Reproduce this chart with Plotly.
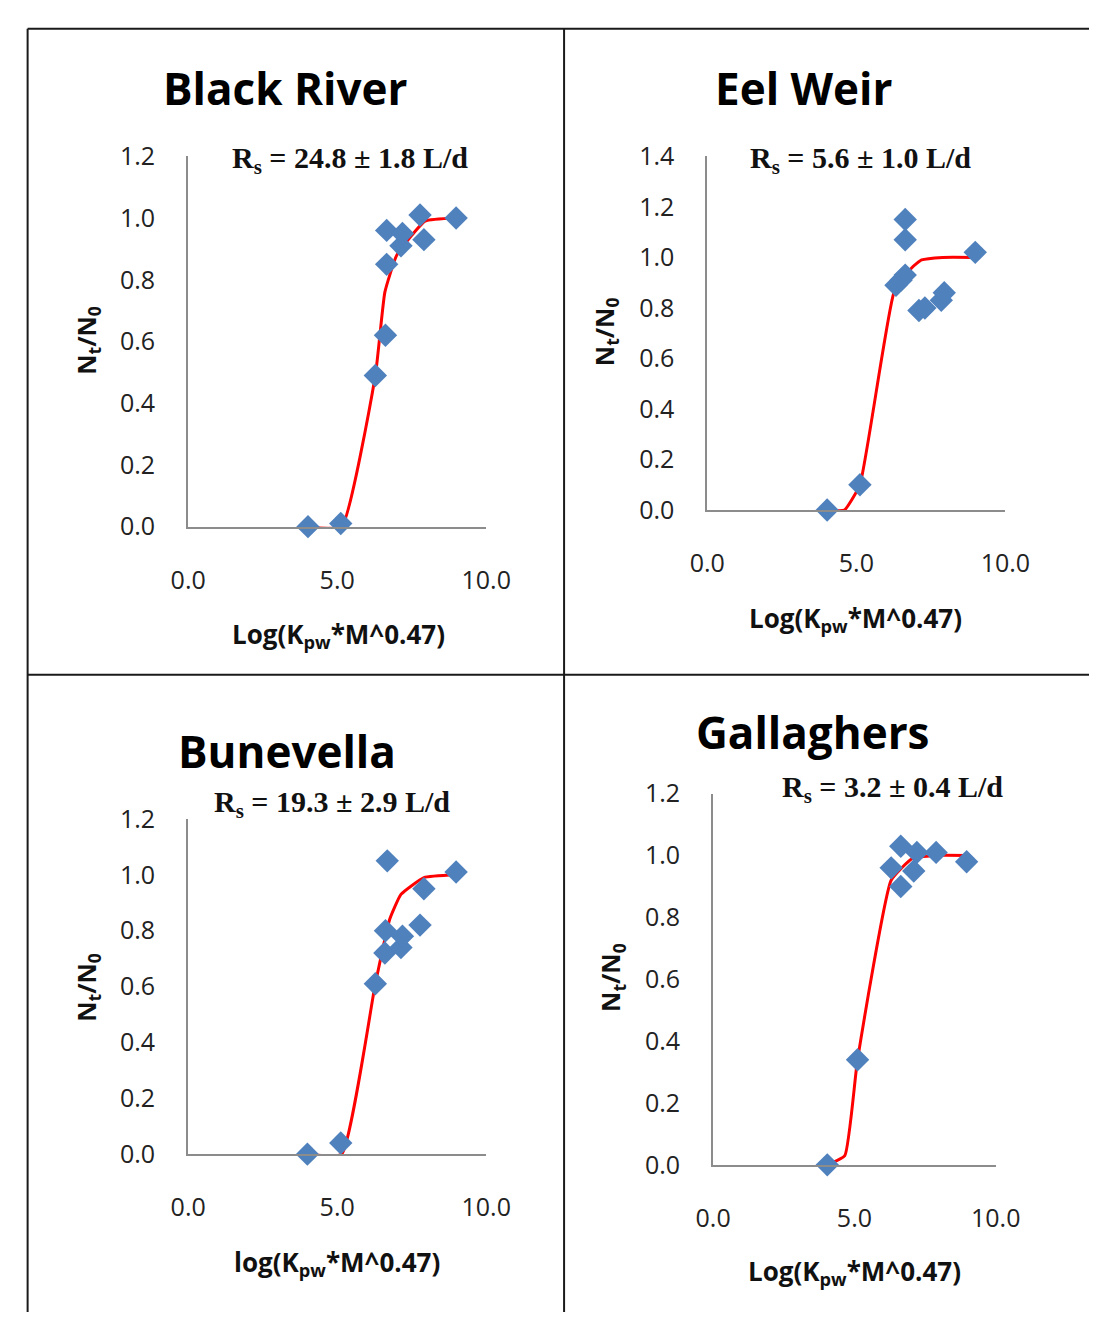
import plotly.graph_objects as go

W, H = 1114, 1328

# ---- Black River ----
br_x = [4.02, 5.12, 6.28, 6.62, 6.66, 6.66, 7.14, 7.19, 7.78, 7.91, 8.99]
br_y = [0.00, 0.01, 0.49, 0.62, 0.85, 0.96, 0.91, 0.95, 1.01, 0.93, 1.00]
br_fit_x = [4.02, 5.15, 6.28, 6.60, 7.00, 7.95, 8.99]
br_fit_y = [0.00, 0.00, 0.49, 0.76, 0.88, 0.99, 1.00]

# ---- Eel Weir ----
ew_x = [4.02, 5.12, 6.33, 6.50, 6.64, 6.64, 6.64, 7.10, 7.30, 7.85, 7.95, 8.99]
ew_y = [0.00, 0.10, 0.89, 0.91, 0.93, 1.07, 1.15, 0.79, 0.80, 0.83, 0.86, 1.02]
ew_fit_x = [4.02, 4.60, 5.12, 6.26, 6.87, 7.19, 7.90, 8.99]
ew_fit_y = [0.00, 0.00, 0.10, 0.86, 0.96, 0.99, 1.00, 1.00]

# ---- Bunevella ----
bu_x = [4.00, 5.12, 6.28, 6.60, 6.62, 6.68, 7.14, 7.19, 7.78, 7.91, 8.99]
bu_y = [0.00, 0.04, 0.61, 0.72, 0.80, 1.05, 0.74, 0.78, 0.82, 0.95, 1.01]
bu_fit_x = [4.00, 5.15, 6.28, 6.76, 7.14, 7.91, 8.99]
bu_fit_y = [0.00, 0.00, 0.61, 0.84, 0.93, 0.99, 1.00]

# ---- Gallaghers ----
ga_x = [4.04, 5.11, 6.30, 6.64, 6.64, 7.10, 7.21, 7.89, 8.97]
ga_y = [0.00, 0.34, 0.96, 0.90, 1.03, 0.95, 1.01, 1.01, 0.98]
ga_fit_x = [4.04, 4.66, 5.11, 6.30, 7.04, 7.89, 8.97]
ga_fit_y = [0.00, 0.03, 0.34, 0.92, 0.99, 1.00, 1.00]

titles = ["Black River", "Eel Weir", "Bunevella", "Gallaghers"]
rs_labels = ["R<sub>s</sub> = 24.8 ± 1.8 L/d", "R<sub>s</sub> = 5.6 ± 1.0 L/d",
             "R<sub>s</sub> = 19.3 ± 2.9 L/d", "R<sub>s</sub> = 3.2 ± 0.4 L/d"]
x_titles = ["Log(K<sub>pw</sub>*M^0.47)", "Log(K<sub>pw</sub>*M^0.47)",
            "log(K<sub>pw</sub>*M^0.47)", "Log(K<sub>pw</sub>*M^0.47)"]
y_title = "N<sub>t</sub>/N<sub>0</sub>"
y_max = [1.2, 1.4, 1.2, 1.2]

panels = [
    (br_x, br_y, br_fit_x, br_fit_y),
    (ew_x, ew_y, ew_fit_x, ew_fit_y),
    (bu_x, bu_y, bu_fit_x, bu_fit_y),
    (ga_x, ga_y, ga_fit_x, ga_fit_y),
]

# plot-area boxes in pixels: (left, right, top, bottom)
boxes = [(177, 487, 142, 522), (717, 1027, 142, 505),
         (177, 487, 822, 1166), (723, 1017, 796, 1177)]
# label positions in pixels
title_pos = [(278, 72), (817, 72), (280, 752), (827, 733)]
rs_pos = [(345, 146), (876, 146), (327, 807), (910, 791)]
xt_pos = [(333, 633), (871, 617), (332, 1278), (870, 1287)]
yt_pos = [(72, 331), (611, 322), (72, 995), (618, 985)]


def px(x):
    return x / W


def py(y):
    return 1 - y / H


fig = go.Figure()
TICK_FONT = dict(family="Open Sans", size=25, color="#222222")
AXIS_LINE = "#8c8c8c"

for i, (dx, dy, fx, fy) in enumerate(panels):
    n = "" if i == 0 else str(i + 1)
    xa, ya = "x" + n, "y" + n
    fig.add_trace(go.Scatter(x=fx, y=fy, mode="lines", xaxis=xa, yaxis=ya,
                             line=dict(color="#ff0000", width=3, shape="spline", smoothing=0.4),
                             showlegend=False, cliponaxis=False, hoverinfo="skip"))
    fig.add_trace(go.Scatter(x=dx, y=dy, mode="markers", xaxis=xa, yaxis=ya,
                             marker=dict(symbol="diamond", size=18, color="#4f81bd",
                                         line=dict(width=0)),
                             showlegend=False, cliponaxis=False))
    l, r, t, b = boxes[i]
    fig.update_layout(**{
        "xaxis" + n: dict(domain=[px(l), px(r)], range=[0, 10], dtick=5, tick0=0,
                          tickformat=".1f", showgrid=False, zeroline=False,
                          showline=True, linecolor=AXIS_LINE, linewidth=2,
                          ticks="", tickfont=TICK_FONT, ticklabelstandoff=30,
                          anchor=ya, fixedrange=True),
        "yaxis" + n: dict(domain=[py(b), py(t)], range=[0, y_max[i]], dtick=0.2, tick0=0,
                          tickformat=".1f", showgrid=False, zeroline=False,
                          showline=True, linecolor=AXIS_LINE, linewidth=2,
                          ticks="", tickfont=TICK_FONT, ticklabelstandoff=26,
                          anchor=xa, fixedrange=True),
    })

annotations = []
for i in range(4):
    tx, ty = title_pos[i]
    annotations.append(dict(text=titles[i], x=px(tx), y=py(ty), xref="paper", yref="paper",
                            showarrow=False, xanchor="center", yanchor="middle",
                            font=dict(family="Open Sans", size=44, color="#000000",
                                      weight="bold")))
    rx, ry = rs_pos[i]
    annotations.append(dict(text=rs_labels[i], x=px(rx), y=py(ry),
                            xref="paper", yref="paper", showarrow=False,
                            xanchor="center", yanchor="middle",
                            font=dict(family="Liberation Serif", size=30, color="#111111",
                                      weight="bold")))
    ax_, ay_ = xt_pos[i]
    annotations.append(dict(text=x_titles[i], x=px(ax_), y=py(ay_),
                            xref="paper", yref="paper", showarrow=False,
                            xanchor="center", yanchor="middle",
                            font=dict(family="Open Sans", size=26, color="#111111",
                                      weight="bold")))
    yx, yy = yt_pos[i]
    annotations.append(dict(text=y_title, x=px(yx), y=py(yy),
                            xref="paper", yref="paper", showarrow=False, textangle=-90,
                            xanchor="center", yanchor="middle",
                            font=dict(family="Open Sans", size=25, color="#111111",
                                      weight="bold")))

# table-style frame around the four panels
GRID = dict(color="#1a1a1a", width=2)
shapes = [
    dict(type="line", xref="paper", yref="paper", x0=px(10), x1=1, y0=py(11), y1=py(11), line=GRID),
    dict(type="line", xref="paper", yref="paper", x0=px(10), x1=1, y0=py(674), y1=py(674), line=GRID),
    dict(type="line", xref="paper", yref="paper", x0=px(10), x1=px(10), y0=py(11), y1=0, line=GRID),
    dict(type="line", xref="paper", yref="paper", x0=px(568), x1=px(568), y0=py(11), y1=0, line=GRID),
]

fig.update_layout(width=W, height=H, margin=dict(l=0, r=0, t=0, b=0),
                  paper_bgcolor="white", plot_bgcolor="white",
                  annotations=annotations, shapes=shapes, showlegend=False)

# page without body margin or scrollbars so the figure sits at the window origin
page_js = ("document.documentElement.style.margin='0';document.body.style.margin='0';"
           "document.body.style.padding='0';document.documentElement.style.overflow='hidden';"
           "document.body.style.overflow='hidden';")
fig.write_html("out.html", config={"displayModeBar": False}, post_script=page_js)
